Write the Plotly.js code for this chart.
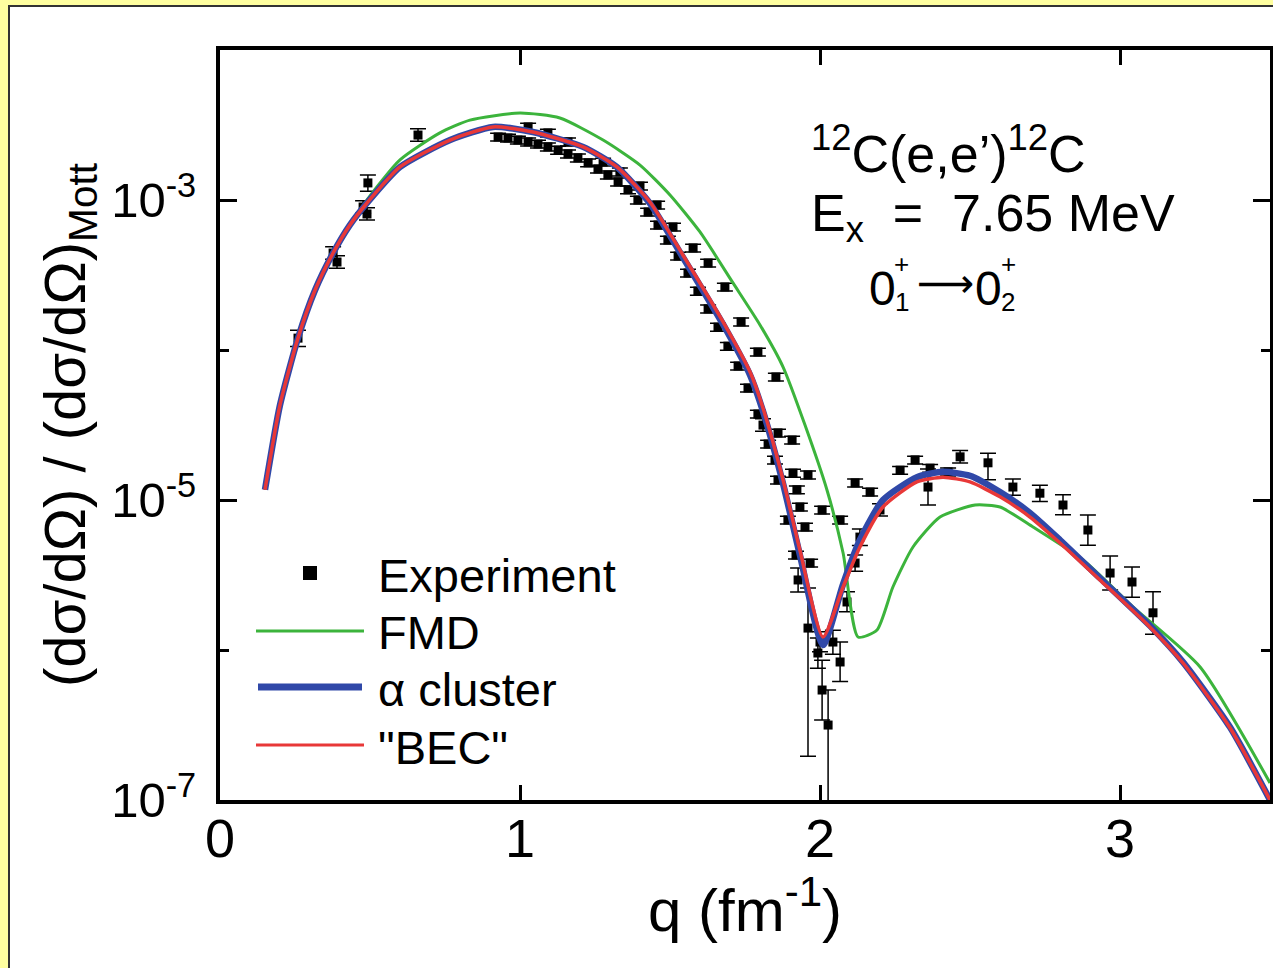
<!DOCTYPE html>
<html>
<head>
<meta charset="utf-8">
<script src="https://cdn.plot.ly/plotly-3.0.1.min.js"></script>
<style>
  html, body { margin:0; padding:0; background:#FFFFA0; width:1273px; height:968px; overflow:hidden; }
  #panel { position:absolute; left:8px; top:5px; width:1300px; height:1000px; background:#ffffff; border:2px solid #333; }
  #chart { position:absolute; left:0; top:0; width:1273px; height:968px; }
</style>
</head>
<body>
<div id="panel"></div>
<div id="chart"></div>
<script>
// ---- Experimental data: q (fm^-1), (dσ/dΩ)/(dσ/dΩ)_Mott, error up/down (%) ----
const expQ = [0.26,0.377,0.39,0.477,0.49,0.493,0.66,
  0.927,0.96,0.993,1.027,1.027,1.06,1.093,1.093,1.127,1.16,1.16,1.193,1.227,1.26,1.277,1.293,1.327,1.333,1.36,1.393,1.4,1.427,1.457,1.46,1.493,1.51,1.527,1.56,1.577,1.593,1.627,1.627,1.66,1.683,1.693,1.727,1.737,1.76,1.793,1.793,1.81,1.827,1.85,1.853,1.86,1.86,1.893,1.907,1.91,1.92,1.923,1.927,1.933,1.95,1.96,1.96,1.967,1.993,2.0,2.007,2.007,2.027,2.043,2.067,2.067,2.09,2.117,2.117,2.133,2.167,2.2,2.267,2.317,2.36,2.367,2.427,2.467,2.56,2.643,2.733,2.81,2.893,2.967,3.04,3.11];
const expVal = [1.20e-4,4.43e-4,3.86e-4,8.98e-4,8.07e-4,1.30e-3,2.71e-3,
  2.63e-3,2.59e-3,2.51e-3,2.44e-3,3.07e-3,2.36e-3,2.26e-3,2.80e-3,2.15e-3,2.03e-3,2.44e-3,1.91e-3,1.77e-3,1.61e-3,1.79e-3,1.47e-3,1.32e-3,1.54e-3,1.17e-3,1.00e-3,1.24e-3,8.32e-4,9.26e-4,6.81e-4,5.41e-4,6.61e-4,4.23e-4,3.26e-4,4.79e-4,2.47e-4,1.88e-4,3.80e-4,1.42e-4,2.63e-4,1.06e-4,7.82e-5,1.54e-4,5.58e-5,3.74e-5,9.70e-5,3.16e-5,2.36e-5,1.85e-5,6.61e-5,1.36e-5,2.80e-5,7.36e-6,2.51e-5,1.51e-5,4.30e-6,1.17e-5,2.93e-6,8.98e-6,6.61e-6,1.47e-5,1.40e-6,3.80e-6,9.55e-7,1.13e-6,8.58e-6,5.41e-7,3.16e-7,1.13e-6,7.36e-6,8.32e-7,2.09e-6,3.80e-6,1.30e-5,5.66e-6,1.13e-5,8.58e-6,1.58e-5,1.85e-5,1.22e-5,1.63e-5,1.54e-5,1.94e-5,1.77e-5,1.22e-5,1.11e-5,9.26e-6,6.31e-6,3.26e-6,2.84e-6,1.77e-6];
const expErrUpPct = [13,10,10,10,10,13,10,
  6,6,6,6,6,6,6,6,6,6,6,6,6,6,6,6,6,6,6,6,6,6,6,6,6,6,6,6,6,6,6,6,6,6,6,6,6,6,6,6,10,6,6,6,6,6,6,6,6,6,6,20,6,6,6,85,6,26,17,6,58,71,20,6,36,17,13,6,13,6,10,6,6,32,6,6,10,16,13,13,17,26,30,26,38];
const expErrDnPct = [12,9,9,9,9,12,9,
  6,6,6,6,6,6,6,6,6,6,6,6,6,6,6,6,6,6,6,6,6,6,6,6,6,6,6,6,6,6,6,6,6,6,6,6,6,6,6,6,9,6,6,6,6,6,6,6,6,6,6,17,6,6,6,86,6,21,14,6,37,99,17,6,26,14,12,6,12,6,9,6,6,24,6,6,9,23,12,12,14,21,23,21,28];

// ---- Theory curves ----
const becQ   = [0.15,0.2,0.26,0.317,0.377,0.433,0.49,0.6,0.767,0.91,1.043,1.21,1.323,1.433,1.543,1.677,1.767,1.81,1.877,1.933,2.01,2.077,2.133,2.21,2.323,2.41,2.5,2.6,2.7,2.8,2.933,3.1,3.21,3.367,3.5];
const becVal = [1.17e-5,4.30e-5,1.20e-4,2.51e-4,4.43e-4,6.81e-4,9.55e-4,1.66e-3,2.51e-3,3.07e-3,2.84e-3,2.26e-3,1.66e-3,9.70e-4,4.30e-4,1.54e-4,7.13e-5,4.10e-5,1.36e-5,4.64e-6,1.22e-6,2.63e-6,4.86e-6,8.98e-6,1.32e-5,1.42e-5,1.32e-5,1.05e-5,7.70e-6,5.17e-6,2.93e-6,1.42e-6,8.19e-7,3.02e-7,1.0e-7];

const alphaQ   = [0.15,0.2,0.26,0.317,0.377,0.433,0.49,0.6,0.767,0.91,1.043,1.21,1.323,1.433,1.543,1.677,1.767,1.81,1.877,1.933,2.01,2.077,2.133,2.21,2.323,2.41,2.5,2.6,2.7,2.8,2.933,3.1,3.21,3.367,3.5];
const alphaVal = [1.17e-5,4.30e-5,1.20e-4,2.51e-4,4.43e-4,6.81e-4,9.55e-4,1.66e-3,2.51e-3,3.07e-3,2.84e-3,2.26e-3,1.66e-3,9.50e-4,4.15e-4,1.48e-4,6.80e-5,3.90e-5,1.28e-5,4.30e-6,1.08e-6,2.75e-6,5.41e-6,1.00e-5,1.42e-5,1.54e-5,1.45e-5,1.13e-5,8.19e-6,5.41e-6,3.02e-6,1.45e-6,8.30e-7,3.05e-7,1.0e-7];

const fmdQ   = [0.15,0.2,0.26,0.317,0.377,0.49,0.6,0.733,0.833,1.0,1.133,1.277,1.4,1.5,1.6,1.71,1.8,1.877,1.95,2.023,2.077,2.127,2.19,2.243,2.31,2.4,2.517,2.6,2.71,2.877,3.043,3.267,3.5];
const fmdVal = [1.17e-5,4.30e-5,1.20e-4,2.51e-4,4.43e-4,1.0e-3,1.85e-3,2.80e-3,3.41e-3,3.80e-3,3.52e-3,2.51e-3,1.71e-3,1.08e-3,6.12e-4,2.80e-4,1.47e-4,7.70e-5,3.16e-5,1.17e-5,4.43e-6,1.22e-6,1.36e-6,2.63e-6,4.86e-6,7.70e-6,9.26e-6,8.98e-6,6.61e-6,3.98e-6,1.94e-6,7.70e-7,1.30e-7];

const seriesNames = ['Experiment','FMD','α cluster','"BEC"'];
const seriesColors = ['#000000','#3cb43c','#3048a8','#e83838'];
const xTickVals = [0,1,2,3];
const xTickText = ['0','1','2','3'];
const yTickVals = [1e-7,1e-5,1e-3];
const yTickText = ['10<sup>-7</sup>','10<sup>-5</sup>','10<sup>-3</sup>'];
const yMinorVals = [1e-6,1e-4];

const errUp = expVal.map((v,i)=>v*expErrUpPct[i]/100);
const errDn = expVal.map((v,i)=>v*expErrDnPct[i]/100);

const FONT = 'Liberation Sans, Arial, Helvetica, sans-serif';

const traces = [
  {x:expQ, y:expVal, name:seriesNames[0], type:'scatter', mode:'markers',
   marker:{symbol:'square', size:9, color:seriesColors[0]},
   error_y:{type:'data', symmetric:false, array:errUp, arrayminus:errDn, color:'black', thickness:1.5, width:8}},
  {x:fmdQ, y:fmdVal, name:seriesNames[1], type:'scatter', mode:'lines', line:{color:seriesColors[1], width:3, shape:'spline', smoothing:0.6}},
  {x:alphaQ, y:alphaVal, name:seriesNames[2], type:'scatter', mode:'lines', line:{color:seriesColors[2], width:6.5, shape:'spline', smoothing:0.6}},
  {x:becQ, y:becVal, name:seriesNames[3], type:'scatter', mode:'lines', line:{color:seriesColors[3], width:3.5, shape:'spline', smoothing:0.6}}
];

// legend drawn in paper space (key glyphs + real text)
function px2x(p){ return (p-220)/1050; }
function px2y(p){ return (800-p)/750; }
const legRows = [575, 632, 689, 747];
const shapes = [
  {type:'rect', xref:'paper', yref:'paper', x0:px2x(303), x1:px2x(317), y0:px2y(580), y1:px2y(566), fillcolor:seriesColors[0], line:{width:0}},
  {type:'line', xref:'paper', yref:'paper', x0:px2x(256), x1:px2x(364), y0:px2y(631), y1:px2y(631), line:{color:seriesColors[1], width:3}},
  {type:'line', xref:'paper', yref:'paper', x0:px2x(258), x1:px2x(362), y0:px2y(687), y1:px2y(687), line:{color:seriesColors[2], width:7}},
  {type:'line', xref:'paper', yref:'paper', x0:px2x(256), x1:px2x(364), y0:px2y(745), y1:px2y(745), line:{color:seriesColors[3], width:3}}
];
const legAnn = seriesNames.map((n,i)=>({xref:'paper', yref:'paper', x:px2x(376), y:px2y(legRows[i]), xanchor:'left', yanchor:'middle',
  showarrow:false, text:n, font:{family:FONT, size:47, color:'black'}}));

function lbl(txt, px, py, size, fam){
  return {xref:'paper', yref:'paper', x:px2x(px), y:px2y(py), xanchor:'left', yanchor:'middle', showarrow:false,
          borderpad:0, text:txt, font:{family:fam || FONT, size:size, color:'black'}};
}

const layout = {
  width:1273, height:968,
  margin:{l:220, r:3, t:50, b:168},
  paper_bgcolor:'rgba(0,0,0,0)', plot_bgcolor:'#ffffff',
  font:{family:FONT, size:47, color:'black'},
  showlegend:false,
  xaxis:{range:[0,3.5], tickvals:xTickVals, ticktext:xTickText, ticks:'inside', ticklen:15, tickwidth:3,
         tickcolor:'black', showline:true, linewidth:4, linecolor:'black', mirror:'ticks',
         showgrid:false, zeroline:false, ticklabelstandoff:-12,
         tickfont:{family:FONT, size:54},
         title:{text:'q (fm<sup>-1</sup>)', standoff:12, font:{family:FONT, size:60}}},
  yaxis:{type:'log', range:[-7,-2], tickvals:yTickVals, ticktext:yTickText, ticks:'inside', ticklen:17, tickwidth:3,
         tickcolor:'black', showline:true, linewidth:4, linecolor:'black', mirror:'ticks',
         showgrid:false, zeroline:false, ticklabelstandoff:10,
         minor:{tickvals:yMinorVals, ticks:'inside', ticklen:9, tickwidth:3, tickcolor:'black', showgrid:false},
         tickfont:{family:FONT, size:49},
         title:{text:'(dσ/dΩ) / (dσ/dΩ)<sub>Mott</sub>', standoff:8, font:{family:FONT, size:58}}},
  shapes:shapes,
  annotations:legAnn.concat([
    lbl('<sup>12</sup>C(e,e’)<sup>12</sup>C', 810, 150, 52),
    lbl('E<sub>x</sub>  =  7.65 MeV', 810, 217, 52),
    lbl('0', 868, 288, 48),
    lbl('+', 893, 264, 26),
    lbl('1', 894, 302, 26),
    lbl('⟶', 916, 283, 40, 'DejaVu Sans, sans-serif'),
    lbl('0', 974, 288, 48),
    lbl('+', 1000, 264, 26),
    lbl('2', 1000, 302, 26)
  ])
};

Plotly.newPlot('chart', traces, layout, {staticPlot:true, displayModeBar:false});
</script>
</body>
</html>
